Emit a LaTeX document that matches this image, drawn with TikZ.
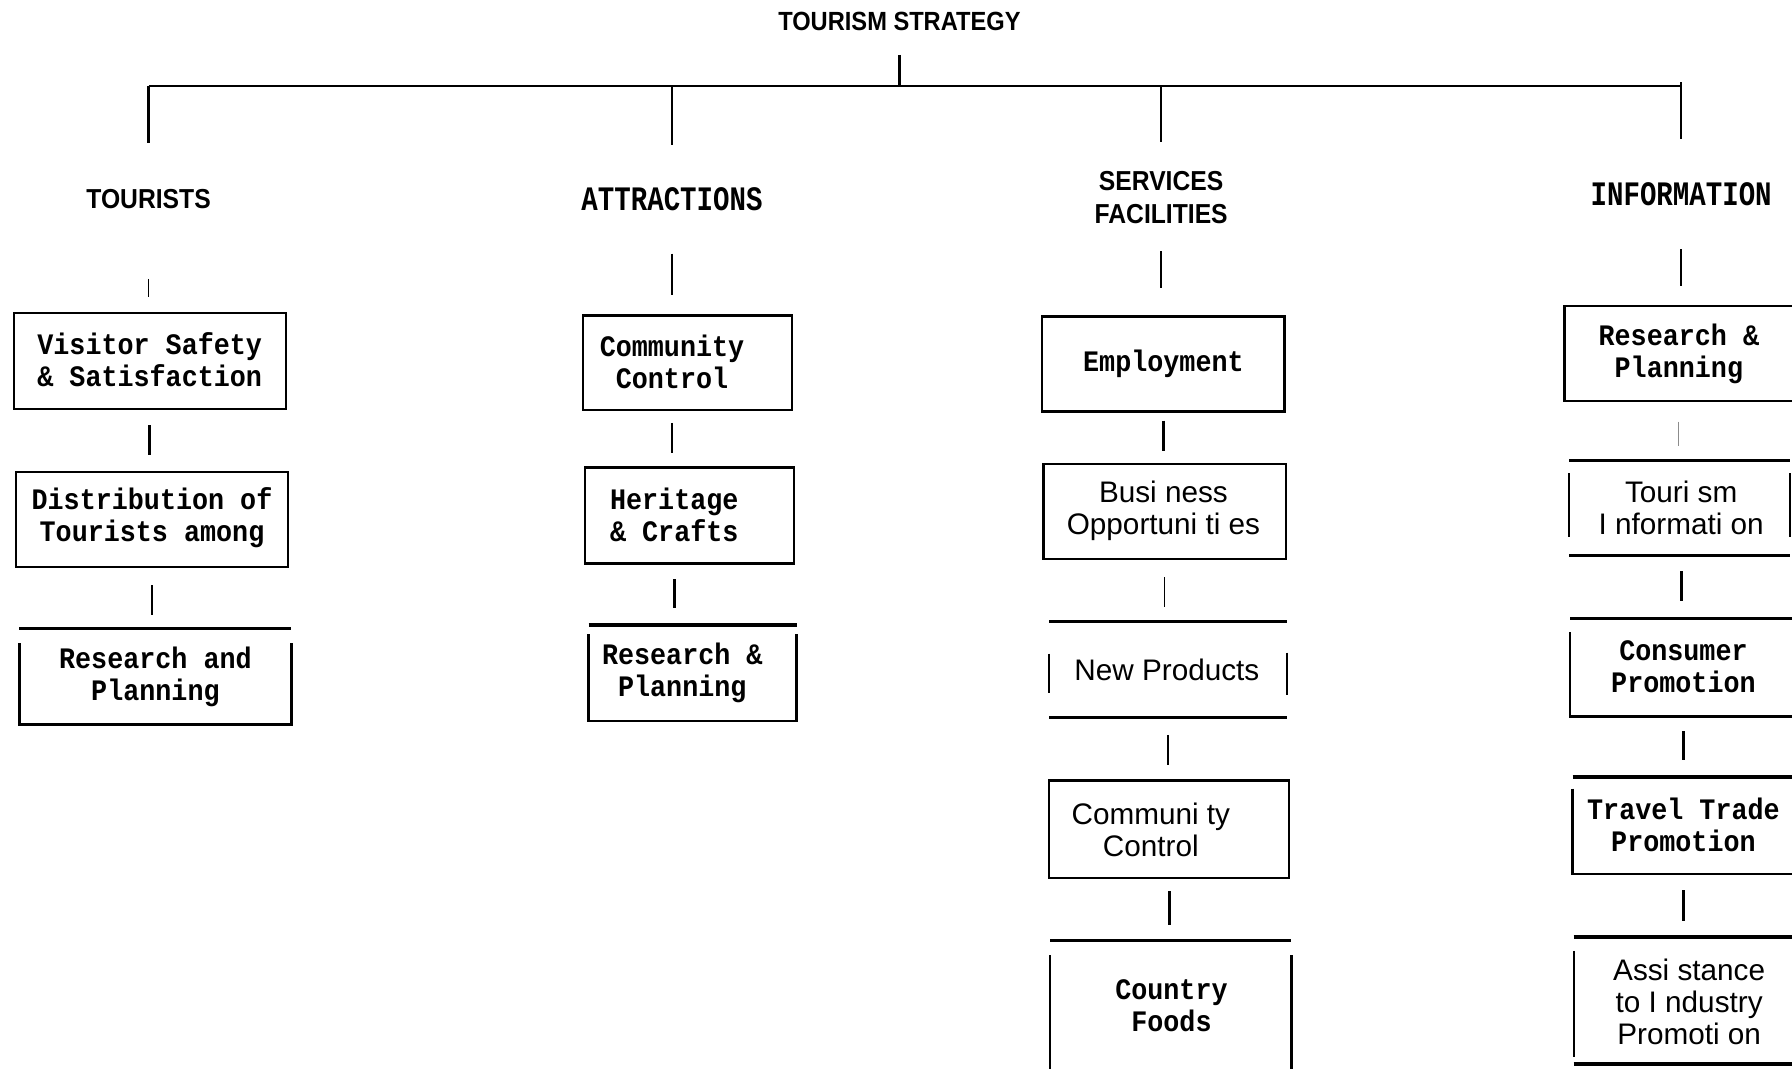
\documentclass[tikz,border=0pt]{standalone}
\usepackage{fontspec}
\usetikzlibrary{calc}
\newfontfamily\headsans[FakeStretch=0.9]{Liberation Sans}
\newfontfamily\boxmono[FakeStretch=0.9]{Liberation Mono}
\newfontfamily\headmono[FakeStretch=0.8]{Liberation Mono}
\newfontfamily\lightsans{Liberation Sans}

\begin{document}
\begin{tikzpicture}[x=1pt,y=-1pt,
  frame/.style={inner sep=0pt, outer sep=0pt, line width=2pt},
  closed/.style={frame, draw},
  boldtxt/.style={font=\boxmono\bfseries\fontsize{26}{28}\selectfont, align=center, inner sep=0pt},
  lighttxt/.style={font=\lightsans\fontsize{26}{28}\selectfont, align=center, inner sep=0pt},
  colhead/.style={font=\headsans\bfseries\fontsize{24}{29}\selectfont, align=center, inner sep=0pt},
  colheadmono/.style={font=\headmono\bfseries\fontsize{30}{30}\selectfont, inner sep=0pt},
  stub/.style={line width=2.5pt},
  thinstub/.style={line width=0.7pt, black!45},
  rule/.style={line width=3pt},
  side/.style={line width=2pt},
  link/.style={line width=2pt}
]
\useasboundingbox (0,0) rectangle (1568,935);
\clip (0,0) rectangle (1568,935);

% ---------- title and branch bar ----------
\node[font=\headsans\bfseries\fontsize{23}{23}\selectfont, inner sep=0pt] (T) at (787,19) {TOURISM STRATEGY};
\coordinate (hub) at (786,75);

\node[colhead] (h1) at (130,174) {TOURISTS};
\node[colheadmono] (h2) at (588,174) {ATTRACTIONS};
\node[colhead] (h3) at (1016,172.5) {SERVICES\\FACILITIES};
\node[colheadmono] (h4) at (1471,170) {INFORMATION};

\draw[stub, shorten <=29pt] (T.center) -- (T.center |- hub);
\draw[link] (h1.center |- hub) -- (h4.center |- hub);
\draw[link, shorten >=49pt] (h1.center |- hub) -- (h1.center);
\draw[link, shorten >=47pt] (h2.center |- hub) -- (h2.center);
\draw[link, shorten >=48.5pt] (h3.center |- hub) -- (h3.center);
\draw[link, shorten >=48pt] ([yshift=3pt]h4.center |- hub) -- (h4.center);

% ---------- TOURISTS ----------
\node[closed, minimum width=238pt, minimum height=84pt] (A1) at (131,316) {};
\node[boldtxt] (A1t) at (131,315) {Visitor Safety\\\& Satisfaction};
\node[closed, minimum width=238pt, minimum height=83pt] (A2) at (133,454.5) {};
\node[boldtxt] (A2t) at (133,453) {Distribution of\\Tourists among};
\node[frame, minimum width=238pt, minimum height=84pt] (A3) at (136,592) {};
\draw[rule] (A3.north west) -- (A3.north east);
\draw[side] ([yshift=-13pt]A3.north west) -- (A3.south west) -- (A3.south east) -- ([yshift=-13pt]A3.north east);
\node[boldtxt] (A3t) at (136,592) {Research and\\Planning};

\draw[stub, line width=1.5pt, shorten <=70pt, shorten >=14pt] (h1.center) -- (h1.center |- A1.north);
\draw[stub, shorten <=14pt, shorten >=15pt] (A1.south) -- (A1.south |- A2.north);
\draw[stub, shorten <=16pt, shorten >=12pt] (A2.south) -- (A2.south |- A3.north);

% ---------- ATTRACTIONS ----------
\node[closed, minimum width=183pt, minimum height=83pt] (B1) at (601.5,317.5) {};
\node[boldtxt] (B1t) at (588,317) {Community\\Control};
\node[closed, minimum width=183pt, minimum height=84pt] (B2) at (603.5,451) {};
\node[boldtxt] (B2t) at (590,450.5) {Heritage\\\& Crafts};
\node[frame, minimum width=182pt, minimum height=84pt] (B3) at (606,589) {};
\draw[rule] (B3.north west) -- (B3.north east);
\draw[side] ([yshift=-8pt]B3.north west) -- (B3.south west) -- (B3.south east) -- ([yshift=-8pt]B3.north east);
\node[boldtxt] (B3t) at (597,589) {Research \&\\Planning};

\draw[link, line width=1.2pt, shorten <=48pt, shorten >=18pt] (h2.center) -- (h2.center |- B1.north);
\draw[stub, shorten <=11pt, shorten >=13pt] (B1t |- B1.south) -- (B1t |- B2.north);
\draw[stub, shorten <=14pt, shorten >=15pt] (B2t |- B2.south) -- (B2t |- B3.north);

% ---------- SERVICES / FACILITIES ----------
\node[closed, minimum width=212pt, minimum height=83pt] (C1) at (1018,318.5) {};
\node[boldtxt] (C1t) at (1018,318) {Employment};
\node[closed, minimum width=212pt, minimum height=83pt] (C2) at (1019,447.5) {};
\node[lighttxt] (C2t) at (1018,447) {Busi ness\\Opportuni ti es};
\node[frame, minimum width=208pt, minimum height=84pt] (C3) at (1022,586) {};
\draw[rule] (C3.north west) -- (C3.north east);
\draw[rule] (C3.south west) -- (C3.south east);
\draw[side, line width=1.2pt] ([yshift=-28pt]C3.north west) -- ([yshift=22pt]C3.south west);
\draw[side, line width=1.2pt] ([yshift=-27pt]C3.north east) -- ([yshift=20pt]C3.south east);
\node[lighttxt] (C3t) at (1021,586) {New Products};
\node[closed, minimum width=210pt, minimum height=85pt] (C4) at (1023,725.5) {};
\node[lighttxt] (C4t) at (1007,726) {Communi ty\\Control};
\node[frame, minimum width=211pt, minimum height=130pt] (C5) at (1024.5,888) {};
\draw[rule, line width=2pt] (C5.north west) -- (C5.north east);
\draw[side] ([yshift=-13pt]C5.north west) -- (C5.south west) -- (C5.south east) -- ([yshift=-13pt]C5.north east);
\node[boldtxt] (C5t) at (1025,880) {Country\\Foods};

\draw[link, line width=1.2pt, shorten <=47.5pt, shorten >=25pt] (h3.center) -- (h3.center |- C1.north);
\draw[stub, shorten <=8pt, shorten >=11pt] (C1.south) -- (C1.south |- C2.north);
\draw[link, line width=1.5pt, shorten <=16pt, shorten >=13pt] (C2.south) -- (C2.south |- C3.north);
\draw[stub, shorten <=15pt, shorten >=14pt] (C3.south) -- (C3.south |- C4.north);
\draw[stub, shorten <=12pt, shorten >=14pt] (C4.south) -- (C4.south |- C5.north);

% ---------- INFORMATION ----------
\node[closed, minimum width=203pt, minimum height=83pt] (D1) at (1470.5,309.5) {};
\node[boldtxt] (D1t) at (1469,309.5) {Research \&\\Planning};
\node[frame, minimum width=193pt, minimum height=83pt] (D2) at (1469.5,444.5) {};
\draw[rule, line width=2.5pt] (D2.north west) -- (D2.north east);
\draw[rule] (D2.south west) -- (D2.south east);
\draw[side] ([yshift=-11pt]D2.north west) -- ([yshift=16pt]D2.south west);
\draw[side] ([yshift=-11pt]D2.north east) -- ([yshift=16pt]D2.south east);
\node[lighttxt] (D2t) at (1471,444) {Touri sm\\I nformati on};
\node[frame, minimum width=198pt, minimum height=86pt] (D3) at (1473,584) {};
\draw[rule, line width=2.5pt] (D3.north west) -- (D3.north east);
\draw[side] ([yshift=-12pt]D3.north west) -- (D3.south west) -- (D3.south east) -- ([yshift=-12pt]D3.north east);
\node[boldtxt] (D3t) at (1473,583) {Consumer\\Promotion};
\node[frame, minimum width=196pt, minimum height=85pt] (D4) at (1474,722.5) {};
\draw[rule] (D4.north west) -- (D4.north east);
\draw[side] ([yshift=-10pt]D4.north west) -- (D4.south west) -- (D4.south east) -- ([yshift=-10pt]D4.north east);
\node[boldtxt] (D4t) at (1473,722) {Travel Trade\\Promotion};
\node[frame, minimum width=203pt, minimum height=111pt] (D5) at (1478.5,875.5) {};
\draw[rule] (D5.north west) -- (D5.north east);
\draw[side] ([yshift=-12pt]D5.north west) -- ([yshift=6pt]D5.south west);
\draw[rule] (D5.south west) -- (D5.south east);
\node[lighttxt] (D5t) at (1478,877) {Assi stance\\to I ndustry\\Promoti on};

\draw[link, line width=1.2pt, shorten <=48pt, shorten >=18pt] (h4.center) -- (h4.center |- D1.north);
\draw[thinstub, shorten <=18pt, shorten >=13pt] (D1t |- D1.south) -- (D1t |- D2.north);
\draw[stub, shorten <=14pt, shorten >=15pt] (D2t |- D2.south) -- (D2t |- D3.north);
\draw[stub, shorten <=13pt, shorten >=15pt] (D3t |- D3.south) -- (D3t |- D4.north);
\draw[stub, shorten <=14pt, shorten >=14pt] (D4t |- D4.south) -- (D4t |- D5.north);
\end{tikzpicture}
\end{document}
